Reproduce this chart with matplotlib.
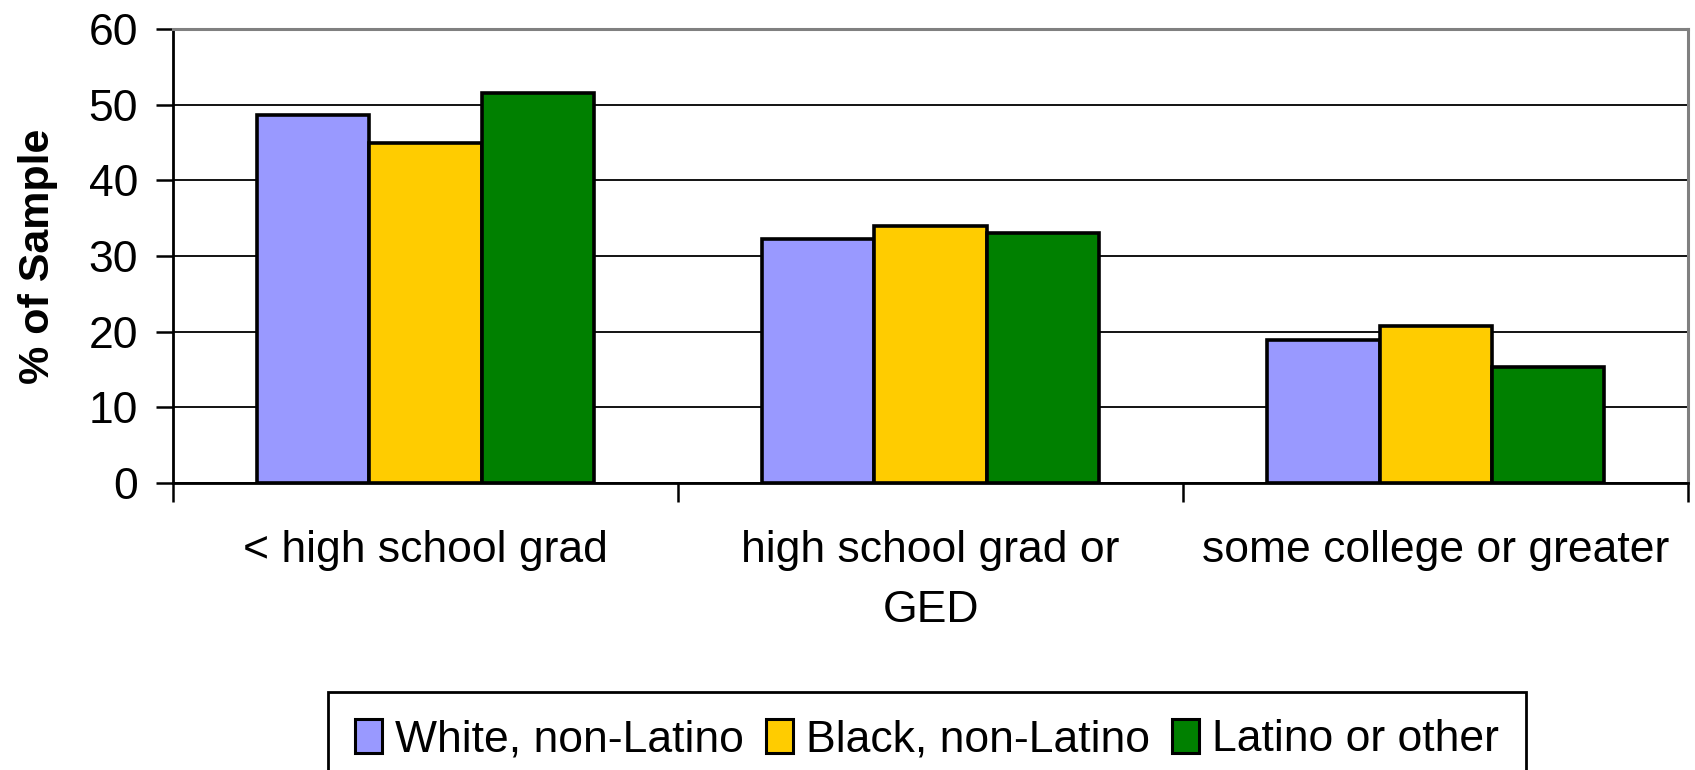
import matplotlib.pyplot as plt
import numpy as np

categories = ["< high school grad", "high school grad or\nGED", "some college or greater"]
series_names = ["White, non-Latino", "Black, non-Latino", "Latino or other"]
white = [48.6, 32.3, 18.9]
black = [45.0, 34.0, 20.7]
latino = [51.6, 33.0, 15.3]
colors = ["#9999FF", "#FFCC00", "#008000"]

plt.rcParams['font.family'] = ['Liberation Sans', 'DejaVu Sans']

fig = plt.figure(figsize=(16.95, 7.7), dpi=100)
ax = fig.add_axes([0.102, 0.373, 0.894, 0.589])

x = np.arange(len(categories))
w = 0.222
for i, (vals, name) in enumerate(zip([white, black, latino], series_names)):
    ax.bar(x + (i - 1) * w, vals, width=w, color=colors[i], edgecolor="black",
           linewidth=2.6, label=name, zorder=3)

ax.set_xlim(-0.5, len(categories) - 0.5)
ax.set_ylim(0, 60)
ax.set_yticks(range(0, 61, 10))
ax.yaxis.grid(True, color="black", linewidth=1.3, zorder=0)
ax.set_axisbelow(True)

ax.set_xticks(np.arange(-0.5, len(categories), 1))
ax.set_xticklabels([])
ax.set_xticks(x, minor=True)
ax.set_xticklabels(categories, minor=True, fontsize=32, linespacing=1.6)
ax.tick_params(axis="x", which="minor", length=0, pad=34)
ax.tick_params(axis="x", which="major", length=14, width=1.8, direction="out")
ax.tick_params(axis="y", length=12, width=1.8, labelsize=32, pad=13)

ax.spines["left"].set_linewidth(2)
ax.spines["bottom"].set_linewidth(2)
ax.spines["top"].set_color("#808080")
ax.spines["top"].set_linewidth(2.2)
ax.spines["right"].set_color("#808080")
ax.spines["right"].set_linewidth(2.2)

ax.set_ylabel("% of Sample", fontsize=31, fontweight="bold", labelpad=22)

leg = fig.legend(loc="upper center", bbox_to_anchor=(0.547, 0.101), ncol=3,
                 fontsize=32, frameon=True, fancybox=False, framealpha=1,
                 handlelength=0.6, handleheight=0.8, handletextpad=0.3,
                 columnspacing=0.5, borderpad=0.6, borderaxespad=0)
leg.get_frame().set_edgecolor("black")
leg.get_frame().set_linewidth(2)
for h in leg.legend_handles:
    h.set_linewidth(2.2)

fig.savefig("out.png", dpi=100)
